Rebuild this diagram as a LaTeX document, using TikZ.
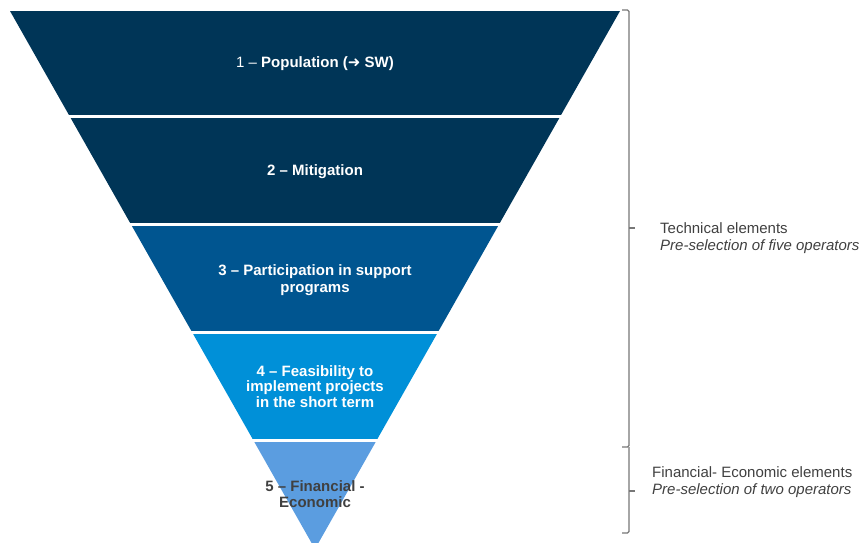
\documentclass[tikz,border=0pt]{standalone}
\usepackage{fontspec}
\setmainfont{Liberation Sans}
\newfontfamily\arrowfont{DejaVu Sans}
\usetikzlibrary{calc}
\definecolor{navy}{HTML}{003557}
\definecolor{midblue}{HTML}{005590}
\definecolor{brightblue}{HTML}{0090D8}
\definecolor{lightblue}{HTML}{5B9DE0}
\definecolor{textgray}{HTML}{404040}
\definecolor{bracegray}{HTML}{777777}

\begin{document}
\begin{tikzpicture}[x=1pt, y=-1pt,
    stage/.style={font=\bfseries, text=white, align=center},
    note/.style={text=textgray, align=left, anchor=west, inner sep=0pt},
    brace/.style={bracegray, line width=1.1pt, rounded corners=1.5pt}]
  \useasboundingbox (0,0) rectangle (864,542);
  \clip (0,0) rectangle (864,542);
  \fontsize{15}{17}\selectfont
  % funnel: top edge and apex
  \coordinate (tl) at (10,11);
  \coordinate (tr) at (620,11);
  \coordinate (apex) at (315,549);
  % stage boundaries down both sides
  \foreach \t [count=\i] in {0.1961,0.3968,0.5976,0.7983} {
    \coordinate (l\i) at ($(tl)!\t!(apex)$);
    \coordinate (r\i) at ($(tr)!\t!(apex)$);
  }
  \fill[navy] (tl) -- (tr) -- (r1) -- (l1) -- cycle;
  \fill[navy] (l1) -- (r1) -- (r2) -- (l2) -- cycle;
  \fill[midblue] (l2) -- (r2) -- (r3) -- (l3) -- cycle;
  \fill[brightblue] (l3) -- (r3) -- (r4) -- (l4) -- cycle;
  \fill[lightblue] (l4) -- (r4) -- (apex) -- cycle;
  \foreach \i in {1,...,4}
    \draw[white, line width=2.5pt] ($(l\i)+(-4,0)$) -- ($(r\i)+(4,0)$);

  \node[stage] (pop) at (315,63.5) {{\mdseries 1 --} Population ({\arrowfont\bfseries ➜} SW)};
  \node[stage] (mit) at (315,171.5) {2 -- Mitigation};
  \node[stage] (part) at (315,280) {3 -- Participation in support\\programs};
  \node[stage, font=\bfseries\fontsize{15}{15.5}\selectfont] (feas) at (315,386.5)
    {4 -- Feasibility to\\implement projects\\in the short term};
  \node[stage, text=textgray, font=\bfseries\fontsize{15}{16.5}\selectfont] (fin) at (315,494)
    {5 -- Financial -\\Economic};

  % brackets on the right
  \draw[brace] (622,10) -- (629,10) -- (629,447) -- (622,447);
  \draw[brace] (629,228) -- (635,228);
  \draw[brace] (629,447) -- (629,533) -- (622,533);
  \draw[brace] (629,491) -- (635,491);
  \node[note] (tech) at (660,238.5) {Technical elements\\\textit{Pre-selection of five operators}};
  \node[note] (econ) at (652,482) {Financial- Economic elements\\\textit{Pre-selection of two operators}};
\end{tikzpicture}
\end{document}
